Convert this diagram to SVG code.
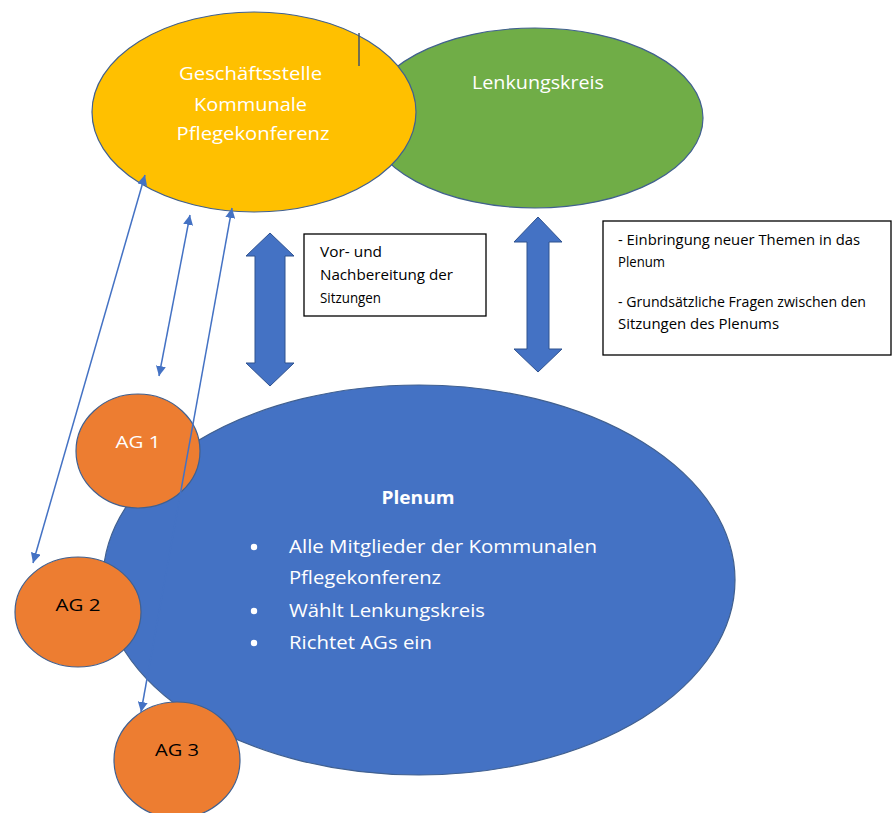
<svg xmlns="http://www.w3.org/2000/svg" width="892" height="813" viewBox="0 0 892 813">
<style>
.t{font-family:"Open Sans","Noto Sans","Liberation Sans",sans-serif}
.w{fill:#ffffff}
.k{fill:#000000}
.ell{stroke:#41608F;stroke-width:1.2}
.box{fill:#ffffff;stroke:#000000;stroke-width:1.3}
.blk{fill:#4472C4;stroke:#2F528F;stroke-width:1}
.thin{stroke:#4472C4;stroke-width:1.5;fill:none;marker-start:url(#ah);marker-end:url(#ah)}
</style>
<defs>
<marker id="ah" viewBox="0 0 10 10" refX="10" refY="5" markerUnits="userSpaceOnUse" markerWidth="10" markerHeight="10" orient="auto-start-reverse">
<path d="M0,0 L10,5 L0,10 z" fill="#4472C4"/>
</marker>
</defs>
<rect width="892" height="813" fill="#ffffff"/>

<g id="lenkungskreis">
<ellipse class="ell" cx="535" cy="118" rx="168" ry="90" fill="#70AD47"/>
<text class="t w" x="538" y="89" font-size="19" text-anchor="middle" textLength="132" lengthAdjust="spacingAndGlyphs">Lenkungskreis</text>
</g>

<g id="geschaeftsstelle">
<ellipse class="ell" cx="254" cy="112" rx="162" ry="100" fill="#FFC000"/>
<text class="t w" font-size="19" text-anchor="middle">
<tspan x="253" y="80" textLength="143" lengthAdjust="spacingAndGlyphs">Geschäftsstelle</tspan>
<tspan x="253" y="111" textLength="113" lengthAdjust="spacingAndGlyphs">Kommunale</tspan>
<tspan x="253" y="140" textLength="153" lengthAdjust="spacingAndGlyphs">Pflegekonferenz</tspan>
</text>
<line x1="359" y1="33" x2="359" y2="66" stroke="#44546A" stroke-width="1.5"/>
</g>

<g id="plenum">
<ellipse class="ell" cx="419" cy="580" rx="316" ry="195" fill="#4472C4"/>
<text class="t w" x="418" y="504" font-size="17" font-weight="bold" text-anchor="middle" textLength="73" lengthAdjust="spacingAndGlyphs">Plenum</text>
<circle cx="254" cy="547" r="3.2" fill="#ffffff"/>
<circle cx="254" cy="611" r="3.2" fill="#ffffff"/>
<circle cx="254" cy="643" r="3.2" fill="#ffffff"/>
<text class="t w" font-size="18">
<tspan x="289" y="553" textLength="308" lengthAdjust="spacingAndGlyphs">Alle Mitglieder der Kommunalen</tspan>
<tspan x="289" y="584" textLength="152" lengthAdjust="spacingAndGlyphs">Pflegekonferenz</tspan>
<tspan x="289" y="617" textLength="196" lengthAdjust="spacingAndGlyphs">Wählt Lenkungskreis</tspan>
<tspan x="289" y="649" textLength="143" lengthAdjust="spacingAndGlyphs">Richtet AGs ein</tspan>
</text>
</g>

<g id="ag1">
<ellipse class="ell" cx="138" cy="451" rx="62" ry="57" fill="#ED7D31"/>
<text class="t w" x="138" y="448" font-size="17" text-anchor="middle" textLength="45" lengthAdjust="spacingAndGlyphs">AG 1</text>
</g>
<g id="ag2">
<ellipse class="ell" cx="78" cy="612" rx="63" ry="55" fill="#ED7D31"/>
<text class="t k" x="78" y="611" font-size="17" text-anchor="middle" textLength="45" lengthAdjust="spacingAndGlyphs">AG 2</text>
</g>
<g id="ag3">
<ellipse class="ell" cx="177" cy="760" rx="63" ry="58" fill="#ED7D31"/>
<text class="t k" x="177" y="756" font-size="17" text-anchor="middle" textLength="44" lengthAdjust="spacingAndGlyphs">AG 3</text>
</g>

<g id="connectors">
<line class="thin" x1="145" y1="175" x2="33" y2="563"/>
<line class="thin" x1="190" y1="215" x2="159" y2="376"/>
<line class="thin" x1="232" y1="208" x2="141" y2="712"/>
<path class="blk" d="M270,233 L294,256 L285,256 L285,363 L294,363 L270,386 L246,363 L255,363 L255,256 L246,256 Z"/>
<path class="blk" d="M538,217 L562,242 L549,242 L549,349 L562,349 L538,372 L514,349 L527,349 L527,242 L514,242 Z"/>
</g>

<g id="box-vor">
<rect class="box" x="304" y="234" width="182" height="82"/>
<text class="t k" font-size="14">
<tspan x="320" y="257" textLength="62" lengthAdjust="spacingAndGlyphs">Vor- und</tspan>
<tspan x="320" y="280" textLength="133" lengthAdjust="spacingAndGlyphs">Nachbereitung der</tspan>
<tspan x="320" y="303" textLength="61" lengthAdjust="spacingAndGlyphs">Sitzungen</tspan>
</text>
</g>

<g id="box-lenk">
<rect class="box" x="603" y="221" width="288" height="134"/>
<text class="t k" font-size="14">
<tspan x="618" y="245" textLength="242" lengthAdjust="spacingAndGlyphs">- Einbringung neuer Themen in das</tspan>
<tspan x="618" y="267" textLength="47" lengthAdjust="spacingAndGlyphs">Plenum</tspan>
<tspan x="618" y="307" textLength="248" lengthAdjust="spacingAndGlyphs">- Grundsätzliche Fragen zwischen den</tspan>
<tspan x="618" y="329" textLength="161" lengthAdjust="spacingAndGlyphs">Sitzungen des Plenums</tspan>
</text>
</g>
</svg>
